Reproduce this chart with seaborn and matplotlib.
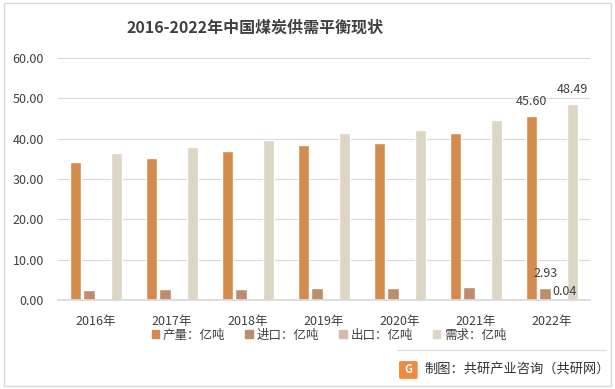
import numpy as np
import pandas as pd
import seaborn as sns
import matplotlib.pyplot as plt
from matplotlib.patches import Rectangle, FancyBboxPatch
from matplotlib.lines import Line2D

# 数据
years = ["2016年", "2017年", "2018年", "2019年", "2020年", "2021年", "2022年"]
series = ["产量：亿吨", "进口：亿吨", "出口：亿吨", "需求：亿吨"]
production = [34.1, 35.2, 36.9, 38.5, 39.0, 41.3, 45.60]
imports = [2.56, 2.71, 2.81, 3.00, 3.04, 3.23, 2.93]
exports = [0.09, 0.08, 0.05, 0.06, 0.03, 0.03, 0.04]
demand = [36.5, 38.0, 39.7, 41.4, 42.2, 44.7, 48.49]
colors = ["#D48B4E", "#BB8D6C", "#D9B8AD", "#DED6C5"]

df = pd.DataFrame({
    "year": years * 4,
    "series": np.repeat(series, len(years)),
    "value": production + imports + exports + demand,
})

sns.set_theme(style="white")
plt.rcParams["font.family"] = ["Noto Sans CJK SC", "DejaVu Sans"]

fig = plt.figure(figsize=(6.15, 3.89), dpi=100)
ax = fig.add_axes([0.0943, 0.229, 0.865, 0.622])

sns.barplot(data=df, x="year", y="value", hue="series", palette=colors,
            width=0.72, gap=0.16, saturation=1, ax=ax, legend=False)

ax.set_ylim(0, 60)
ax.set_yticks(np.arange(0, 61, 10))
ax.set_yticklabels([f"{v:.2f}" for v in np.arange(0, 61, 10)], fontsize=9, color="#404040")
ax.tick_params(axis="x", labelsize=9, labelcolor="#404040", length=0, pad=11)
ax.tick_params(axis="y", length=0, pad=10)
ax.set_xlabel("")
ax.set_ylabel("")
ax.grid(axis="y", color="#D9D9D9", linewidth=0.8)
ax.set_axisbelow(True)
for s in ["top", "right", "left"]:
    ax.spines[s].set_visible(False)
ax.spines["bottom"].set_color("#D9D9D9")

# 2022 数据标签
n = len(years)
for i, cont in enumerate(ax.containers):
    bar = cont.patches[n - 1]
    x = bar.get_x() + bar.get_width() / 2
    h = bar.get_height()
    dx = 4 if i == 2 else 0
    dy = 6 if i != 2 else 1
    ax.annotate(f"{h:.2f}", (x, h), xytext=(dx, dy), textcoords="offset points",
                ha="center", va="bottom", fontsize=9, color="#404040")

fig.text(0.415, 0.928, "2016-2022年中国煤炭供需平衡现状", ha="center", va="center",
         fontsize=11.5, fontweight="bold", color="#404040")

# 图例
handles = [Rectangle((0, 0), 1, 1, color=c) for c in colors]
fig.legend(handles, series, loc="center", bbox_to_anchor=(0.535, 0.138), ncol=4,
           frameon=False, fontsize=9, handlelength=0.6, handleheight=0.6,
           columnspacing=1.6, handletextpad=0.3, labelcolor="#404040")

# 边框
fig.patches.append(Rectangle((0.006, 0.008), 0.988, 0.984, transform=fig.transFigure,
                             fill=False, edgecolor="#D9D9D9", linewidth=1))
fig.lines.append(Line2D([0.645, 0.985], [0.1, 0.1], transform=fig.transFigure,
                        color="#D9D9D9", linewidth=0.8))

# 来源
fig.patches.append(FancyBboxPatch((0.652, 0.03), 0.024, 0.038, boxstyle="round,pad=0.002",
                                  transform=fig.transFigure, color="#F08A3C"))
fig.text(0.664, 0.049, "G", ha="center", va="center", fontsize=8, color="white",
         fontweight="bold")
fig.text(0.69, 0.05, "制图：共研产业咨询（共研网）", ha="left", va="center",
         fontsize=9.5, color="#333333")

fig.savefig("out.png", dpi=100)
